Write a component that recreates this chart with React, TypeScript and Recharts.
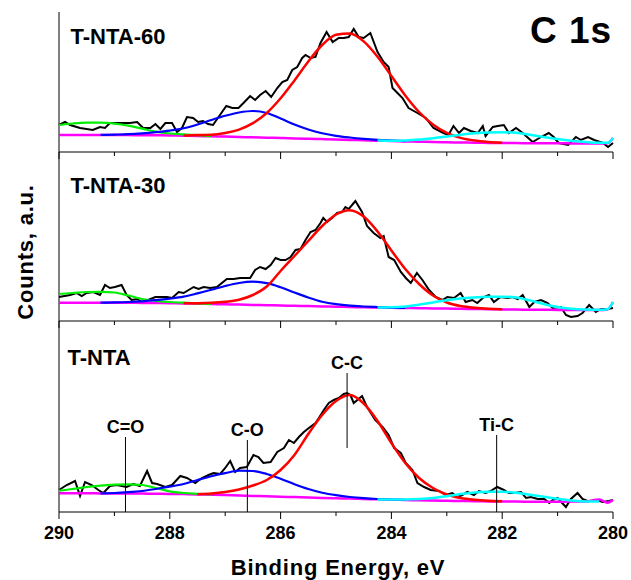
import { LineChart, Line, XAxis, YAxis, ReferenceLine } from "recharts";

const FONT = "'Liberation Sans', Arial, Helvetica, sans-serif";

// x-axis ticks (binding energy, eV); even values get a label
const energyTicks = [290, 289, 288, 287, 286, 285, 284, 283, 282, 281, 280];

// energy grid used by the fitted components
const fitEnergy = [
  290, 289.75, 289.5, 289.25,
  289, 288.75, 288.5, 288.25,
  288, 287.75, 287.5, 287.25,
  287, 286.75, 286.5, 286.25,
  286, 285.75, 285.5, 285.25,
  285, 284.75, 284.5, 284.25,
  284, 283.75, 283.5, 283.25,
  283, 282.75, 282.5, 282.25,
  282, 281.75, 281.5, 281.25,
  281, 280.75, 280.5, 280.25,
  280.1, 280,
];

// ---- T-NTA-60 ----
const t60Scan: [number, number][] = [
  [290, 27], [289.89, 30], [289.8, 27], [289.62, 24], [289.39, 22], [289.26, 25], [289.17, 24],
  [289.08, 29], [288.9, 29], [288.72, 29], [288.59, 30], [288.48, 24], [288.35, 24], [288.26, 28],
  [288.17, 23], [288.08, 29], [287.96, 29], [287.87, 20], [287.78, 24], [287.69, 35], [287.58, 34],
  [287.49, 30], [287.4, 31], [287.31, 28], [287.22, 27], [287.12, 35], [286.98, 46], [286.87, 44],
  [286.76, 44], [286.67, 49], [286.55, 56], [286.46, 52], [286.37, 57], [286.27, 61], [286.17, 55],
  [286.06, 64], [285.97, 70], [285.88, 72], [285.79, 82], [285.7, 85], [285.61, 94], [285.55, 97],
  [285.46, 94], [285.37, 95], [285.28, 109], [285.17, 120], [285.06, 110], [284.95, 114], [284.86, 114],
  [284.77, 115], [284.68, 123], [284.59, 115], [284.5, 114], [284.38, 119], [284.25, 100], [284.14, 90],
  [284.05, 85], [283.98, 64], [283.89, 59], [283.8, 54], [283.69, 44], [283.53, 39], [283.38, 34],
  [283.24, 24], [283.06, 19], [282.97, 17], [282.88, 26], [282.78, 19], [282.69, 24], [282.57, 21],
  [282.44, 19], [282.35, 26], [282.3, 16], [282.17, 25], [282.08, 26], [281.97, 27], [281.88, 19],
  [281.75, 24], [281.63, 19], [281.45, 10], [281.3, 15], [281.16, 19], [281.07, 15], [280.98, 9],
  [280.81, 7], [280.67, 15], [280.58, 12], [280.45, 15], [280.34, 12], [280.18, 9], [280.09, 5],
  [280, 9],
];
const t60Baseline = [
  17, 17, 17, 17,
  17, 16.9, 16.8, 16.7,
  16.5, 16.3, 16, 15.7,
  15.4, 15, 14.7, 14.3,
  14, 13.6, 13.2, 12.9,
  12.5, 12.1, 11.7, 11.3,
  11, 10.6, 10.3, 10,
  9.7, 9.5, 9.3, 9.1,
  9, 8.9, 8.8, 8.7,
  8.7, 8.6, 8.6, 8.6,
  8.8, 14,
];
const t60CC = [
  null, null, null, null,
  null, null, null, null,
  null, 16.4, 17, 17.2,
  18.9, 22.4, 28.9, 39,
  53.7, 71.6, 90.5, 107,
  117.3, 118.6, 110.6, 95.2,
  76, 56.6, 40, 27.5,
  19.1, 14.1, 11.4, 10,
  9.3, null, null, null,
  null, null, null, null,
  null, null,
];
const t60CO = [
  null, null, null, 17.1,
  17.4, 17.8, 18.6, 19.8,
  21.4, 23.7, 27.5, 32,
  36.2, 39.5, 41, 39,
  33.5, 27.5, 22.5, 18.8,
  16.2, 14.5, 13.2, 12.2,
  11.5, 10.9, null, null,
  null, null, null, null,
  null, null, null, null,
  null, null, null, null,
  null, null,
];
const t60CdO = [
  27, 28.5, 29.3, 29.3,
  28.3, 26.3, 23.3, 20.3,
  18.5, 17.6, 16.8, 15.9,
  null, null, null, null,
  null, null, null, null,
  null, null, null, null,
  null, null, null, null,
  null, null, null, null,
  null, null, null, null,
  null, null, null, null,
  null, null,
];
const t60TiC = [
  null, null, null, null,
  null, null, null, null,
  null, null, null, null,
  null, null, null, null,
  null, null, null, null,
  null, null, null, 11.4,
  11.3, 11.6, 12.4, 13.8,
  15.5, 17.3, 18.7, 19.5,
  19.7, 19.3, 17.2, 15,
  13, 11.3, 10, 9.2,
  9.2, 14,
];

// ---- T-NTA-30 ----
const t30Scan: [number, number][] = [
  [290, 24], [289.8, 26], [289.68, 28], [289.59, 25], [289.5, 28], [289.38, 29], [289.26, 26],
  [289.17, 36], [289.08, 33], [288.99, 34], [288.87, 36], [288.78, 26], [288.69, 21], [288.59, 22],
  [288.5, 19], [288.39, 21], [288.26, 24], [288.17, 24], [288.05, 24], [287.96, 23], [287.84, 29],
  [287.75, 28], [287.66, 31], [287.57, 34], [287.48, 32], [287.39, 34], [287.27, 33], [287.15, 34],
  [287.06, 38], [286.97, 42], [286.85, 42], [286.73, 43], [286.61, 43], [286.55, 43], [286.46, 51],
  [286.37, 54], [286.27, 52], [286.18, 56], [286.09, 63], [286, 61], [285.91, 61], [285.82, 64],
  [285.73, 71], [285.64, 72], [285.55, 81], [285.46, 89], [285.37, 91], [285.28, 98], [285.23, 103],
  [285.16, 99], [285.07, 103], [284.98, 108], [284.89, 109], [284.83, 114], [284.77, 112], [284.65, 120],
  [284.53, 109], [284.44, 95], [284.32, 88], [284.2, 83], [284.14, 85], [284.05, 64], [283.95, 61],
  [283.83, 49], [283.74, 43], [283.65, 38], [283.54, 48], [283.44, 41], [283.32, 31], [283.2, 24],
  [283.08, 21], [282.99, 24], [282.87, 23], [282.75, 28], [282.66, 19], [282.54, 21], [282.45, 18],
  [282.33, 24], [282.24, 26], [282.15, 19], [282.03, 24], [281.9, 23], [281.81, 24], [281.72, 22],
  [281.63, 26], [281.51, 14], [281.42, 19], [281.3, 21], [281.18, 18], [281.09, 13], [280.94, 14],
  [280.85, 6], [280.76, 4], [280.64, 5], [280.55, 8], [280.43, 16], [280.31, 9], [280.22, 12],
  [280.1, 12], [280, 13],
];
const t30Baseline = [
  18.3, 18.3, 18.3, 18.3,
  18.3, 18.2, 18.1, 18,
  17.8, 17.6, 17.3, 17,
  16.7, 16.4, 16.1, 15.8,
  15.5, 15.2, 14.9, 14.6,
  14.3, 14, 13.7, 13.4,
  13.2, 13, 12.8, 12.6,
  12.4, 12.2, 12, 11.8,
  11.6, 11.4, 11.3, 11.2,
  11.1, 11, 11, 11,
  11.6, 19,
];
const t30CC = [
  null, null, null, null,
  null, null, null, null,
  null, 17.7, 17.8, 18.2,
  19.2, 21.3, 26, 34.5,
  50, 65, 80, 95,
  106.5, 110.8, 104.5, 89.5,
  70.5, 52, 37, 25.5,
  18.5, 15, 13.2, 12.2,
  11.8, null, null, null,
  null, null, null, null,
  null, null,
];
const t30CO = [
  null, null, null, 18.4,
  18.6, 19, 19.7, 20.8,
  22.3, 24.3, 27.6, 31.2,
  35, 38, 39.3, 37.8,
  33.7, 28.5, 23.5, 19.3,
  16.8, 15.3, 14.5, 13.9,
  13.4, 13.1, null, null,
  null, null, null, null,
  null, null, null, null,
  null, null, null, null,
  null, null,
];
const t30CdO = [
  27, 28, 29, 29.2,
  28.5, 25.5, 22, 20,
  19, 18.3, 17.6, 17.1,
  null, null, null, null,
  null, null, null, null,
  null, null, null, null,
  null, null, null, null,
  null, null, null, null,
  null, null, null, null,
  null, null, null, null,
  null, null,
];
const t30TiC = [
  null, null, null, null,
  null, null, null, null,
  null, null, null, null,
  null, null, null, null,
  null, null, null, null,
  null, null, null, 13.6,
  13.8, 14.6, 16.3, 18.5,
  20.8, 22.5, 23.5, 24.2,
  24.3, 23.5, 20.6, 17,
  14, 12.3, 11.5, 11.2,
  11.8, 19,
];

// ---- T-NTA ----
const t0Scan: [number, number][] = [
  [290, 22], [289.86, 27], [289.71, 31], [289.62, 16], [289.53, 30], [289.41, 27], [289.29, 22],
  [289.2, 19], [289.08, 26], [288.96, 27], [288.78, 25], [288.66, 28], [288.54, 26], [288.41, 41],
  [288.32, 29], [288.23, 28], [288.08, 25], [287.96, 27], [287.81, 36], [287.69, 34], [287.54, 29],
  [287.42, 34], [287.3, 37], [287.21, 39], [287.09, 38], [287, 44], [286.91, 51], [286.82, 40],
  [286.73, 44], [286.61, 45], [286.49, 57], [286.4, 55], [286.31, 49], [286.18, 50], [286.06, 60],
  [285.94, 64], [285.85, 72], [285.76, 69], [285.67, 75], [285.58, 80], [285.49, 84], [285.37, 89],
  [285.31, 94], [285.22, 102], [285.13, 109], [285.04, 112], [284.95, 114], [284.86, 118], [284.8, 119],
  [284.74, 117], [284.68, 109], [284.53, 116], [284.44, 105], [284.29, 92], [284.16, 85], [284.05, 77],
  [283.95, 64], [283.83, 59], [283.74, 49], [283.62, 42], [283.53, 29], [283.41, 25], [283.29, 22],
  [283.14, 21], [283.02, 17], [282.9, 19], [282.81, 15], [282.72, 17], [282.63, 20], [282.51, 17],
  [282.42, 21], [282.3, 19], [282.21, 21], [282.09, 25], [281.97, 22], [281.88, 19], [281.78, 19],
  [281.66, 20], [281.57, 14], [281.48, 15], [281.36, 13], [281.24, 13], [281.15, 9], [281.09, 12],
  [281, 14], [280.85, 5], [280.76, 13], [280.64, 19], [280.55, 13], [280.46, 11], [280.37, 11],
  [280.28, 12], [280.19, 10], [280.07, 11], [280, 12],
];
const t0Baseline = [
  18.7, 18.7, 18.7, 18.6,
  18.6, 18.5, 18.4, 18.3,
  18.1, 17.9, 17.6, 17.3,
  16.9, 16.5, 16.1, 15.7,
  15.3, 14.9, 14.5, 14.1,
  13.7, 13.4, 13, 12.7,
  12.3, 12, 11.7, 11.4,
  11.2, 11, 10.8, 10.6,
  10.5, 10.4, 10.3, 10.3,
  10.3, 10.4, 10.5, 12.5,
  9.3, 12,
];
const t0CC = [
  null, null, null, null,
  null, null, null, null,
  null, null, 17.8, 18.5,
  20, 22.5, 26.5, 32,
  42, 57, 78, 97,
  111, 117, 108.5, 91,
  69, 49, 34, 24,
  17.5, 14, 12.2, 11.2,
  10.7, null, null, null,
  null, null, null, null,
  null, null,
];
const t0CO = [
  null, null, null, 18.7,
  19, 19.8, 21, 23,
  25.3, 28, 32, 35.8,
  38.8, 41.3, 41, 38,
  33.3, 27.8, 23, 19.3,
  16.8, 15, 13.8, 13,
  12.5, 12.1, null, null,
  null, null, null, null,
  null, null, null, null,
  null, null, null, null,
  null, null,
];
const t0CdO = [
  21.3, 23, 25, 26.4,
  27.3, 27.7, 27, 24,
  20.7, 19, 18.2, 17.6,
  null, null, null, null,
  null, null, null, null,
  null, null, null, null,
  null, null, null, null,
  null, null, null, null,
  null, null, null, null,
  null, null, null, null,
  null, null,
];
const t0TiC = [
  null, null, null, null,
  null, null, null, null,
  null, null, null, null,
  null, null, null, null,
  null, null, null, null,
  null, null, null, 12.6,
  12.4, 12.5, 13, 14,
  15.8, 18, 19.6, 20.3,
  20.3, 19.2, 17.2, 15.2,
  13.2, 11.5, 10.6, 10.5,
  null, null,
];

// peak assignments marked on the T-NTA panel
const peakNames = ["C=O", "C-O", "C-C", "Ti-C"];
const peakEnergy = [288.8, 286.6, 284.8, 282.1];
const markerFrom = [0, 0, 64, 0];
const markerTo = [75, 72, 139, 77];

type Num = number | null;

function scanRows(scan: [number, number][]) {
  return scan.map(([e, counts]) => ({ e, counts }));
}

function fitRows(baseline: Num[], cdo: Num[], co: Num[], cc: Num[], tic: Num[]) {
  return fitEnergy.map((e, i) => ({
    e,
    baseline: baseline[i],
    cdo: cdo[i],
    co: co[i],
    cc: cc[i],
    tic: tic[i],
  }));
}

const panels = [
  {
    scan: scanRows(t60Scan),
    fits: fitRows(t60Baseline, t60CdO, t60CO, t60CC, t60TiC),
    top: 0,
    height: 160,
    marginTop: 12,
    axisHeight: 8,
    yMax: 140,
    bottom: false,
  },
  {
    scan: scanRows(t30Scan),
    fits: fitRows(t30Baseline, t30CdO, t30CO, t30CC, t30TiC),
    top: 152,
    height: 177,
    marginTop: 0,
    axisHeight: 8,
    yMax: 169,
    bottom: false,
  },
  {
    scan: scanRows(t0Scan),
    fits: fitRows(t0Baseline, t0CdO, t0CO, t0CC, t0TiC),
    top: 321,
    height: 259,
    marginTop: 0,
    axisHeight: 68,
    yMax: 191,
    bottom: true,
  },
];

function EnergyTick(props: any) {
  const { x, y, payload, showLabel } = props;
  const major = payload.value % 2 === 0;
  return (
    <g>
      <line x1={x} x2={x} y1={y} y2={y + (major ? 7 : 4)} stroke="#000" strokeWidth={1} />
      {showLabel && major ? (
        <text
          x={x}
          y={y + 27}
          textAnchor="middle"
          fontFamily={FONT}
          fontSize={18}
          fontWeight={700}
          fill="#000"
        >
          {payload.value}
        </text>
      ) : null}
    </g>
  );
}

const fitLine = { dot: false, type: "monotone" as const, isAnimationActive: false, strokeWidth: 2.2 };

export default function App() {
  return (
    <div style={{ position: "absolute", left: 0, top: 0, width: 631, height: 580, background: "#fff" }}>
      {panels.map((p, idx) => (
        <div key={idx} style={{ position: "absolute", left: 0, top: p.top }}>
          <LineChart width={631} height={p.height} margin={{ top: p.marginTop, right: 18, bottom: 0, left: 59 }}>
            <XAxis
              type="number"
              dataKey="e"
              domain={[280, 290]}
              reversed
              ticks={energyTicks}
              interval={0}
              tickSize={0}
              tickMargin={0}
              tickLine={false}
              height={p.axisHeight}
              axisLine={{ stroke: "#000" }}
              tick={(tp: any) => <EnergyTick {...tp} showLabel={p.bottom} />}
            />
            <YAxis hide domain={[0, p.yMax]} />
            <ReferenceLine x={290} stroke="#000" />
            <Line data={p.scan} dataKey="counts" stroke="#000" strokeWidth={2} dot={false} type="linear" isAnimationActive={false} />
            <Line data={p.fits} dataKey="baseline" stroke="#ff00ff" {...fitLine} strokeWidth={2.5} />
            <Line data={p.fits} dataKey="cdo" stroke="#00ee00" {...fitLine} />
            <Line data={p.fits} dataKey="co" stroke="#0000ff" {...fitLine} />
            <Line data={p.fits} dataKey="cc" stroke="#ff0000" {...fitLine} strokeWidth={2.5} />
            <Line data={p.fits} dataKey="tic" stroke="#00ffff" {...fitLine} strokeWidth={2.5} />
            {p.bottom &&
              peakNames.map((name, i) => (
                <ReferenceLine
                  key={name}
                  segment={[
                    { x: peakEnergy[i], y: markerFrom[i] },
                    { x: peakEnergy[i], y: markerTo[i] },
                  ]}
                  stroke="#000"
                  strokeWidth={1}
                  label={{
                    value: name,
                    position: "top",
                    offset: 4,
                    fontSize: 18,
                    fontWeight: 700,
                    fontFamily: FONT,
                    fill: "#000",
                  }}
                />
              ))}
          </LineChart>
        </div>
      ))}
      <svg
        width={631}
        height={580}
        style={{ position: "absolute", left: 0, top: 0, pointerEvents: "none" }}
        fontFamily={FONT}
        fontWeight={700}
        fill="#000"
      >
        <text x={70.5} y={44} fontSize={22}>T-NTA-60</text>
        <text x={70.5} y={193} fontSize={22}>T-NTA-30</text>
        <text x={67.5} y={365} fontSize={22}>T-NTA</text>
        <text x={530} y={43} fontSize={37} letterSpacing={1}>C 1s</text>
        <text x={338} y={575} fontSize={22} letterSpacing={0.8} textAnchor="middle">
          Binding Energy, eV
        </text>
        <text
          x={33}
          y={252}
          fontSize={22}
          letterSpacing={0.8}
          textAnchor="middle"
          transform="rotate(-90 33 252)"
        >
          Counts, a.u.
        </text>
      </svg>
    </div>
  );
}
